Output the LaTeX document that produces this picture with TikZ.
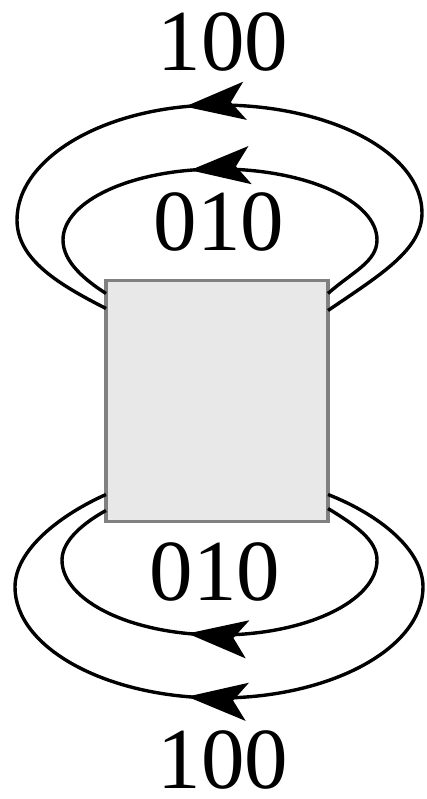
\documentclass[tikz,border=0pt]{standalone}
\usepackage{fontspec}
\setmainfont{Liberation Serif}
\usetikzlibrary{arrows.meta,decorations.markings}
\definecolor{boxfill}{HTML}{E8E8E8}
\definecolor{boxline}{HTML}{808080}

\begin{document}
\begin{tikzpicture}
[
    x=1pt, y=-1pt,
    blockbox/.style={draw=boxline, fill=boxfill, line width=3.5pt, minimum width=222pt, minimum height=241pt, outer sep=0pt},
    loopedge/.style={line width=3.4pt, decoration={markings, mark=at position #1 with {\arrow{Stealth[length=60pt, width=38pt, inset=14pt]}}}, postaction={decorate}},
    lbl/.style={font=\fontsize{87}{87}\selectfont, inner sep=0pt}
]
    \useasboundingbox (0,0) rectangle (426,799);

    \node [blockbox] (blk) at (217,401) {};

    \node [lbl] (top100) at (223,42) {100};
    \node [lbl] (top010) at (219,222) {010};
    \node [lbl] (bot010) at (215,572) {010};
    \node [lbl] (bot100) at (223,760) {100};

    % loops above the box
    \draw [loopedge=0.547] ([yshift=-30pt]blk.north east)
        .. controls (380,275) and (422,250) .. (422,213)
        .. controls (422,153) and (331,105) .. (219,105)
        .. controls (107,105) and (17,157) .. (17,220)
        .. controls (17,260) and (60,285) .. ([yshift=-28pt]blk.north west);
    \draw [loopedge=0.561] ([yshift=-13pt]blk.north east)
        .. controls (352,272) and (377,262) .. (377,240)
        .. controls (377,201) and (306,169) .. (219,169)
        .. controls (132,169) and (63,201) .. (63,240)
        .. controls (63,262) and (85,280) .. ([yshift=-13pt]blk.north west);

    % loops below the box
    \draw [loopedge=0.566] ([yshift=13pt]blk.south east)
        .. controls (355,525) and (377,540) .. (377,560)
        .. controls (377,601) and (306,635) .. (219,635)
        .. controls (132,635) and (62,601) .. (62,560)
        .. controls (62,540) and (85,522) .. ([yshift=11pt]blk.south west);
    \draw [loopedge=0.543] ([yshift=27pt]blk.south east)
        .. controls (380,515) and (423,550) .. (423,587)
        .. controls (423,648) and (331,698) .. (219,698)
        .. controls (107,698) and (15,648) .. (15,587)
        .. controls (15,550) and (60,515) .. ([yshift=27pt]blk.south west);
\end{tikzpicture}
\end{document}
